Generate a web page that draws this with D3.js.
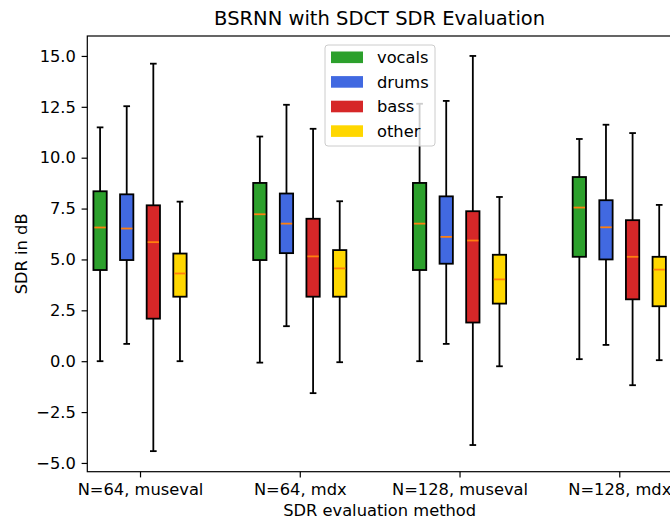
<!DOCTYPE html>
<html>
<head>
<meta charset="utf-8">
<script src="https://cdn.jsdelivr.net/npm/d3@7"></script>
<style>
  body { margin: 0; background: #fff; }
  text { font-family: "DejaVu Sans", sans-serif; fill: #000; }
</style>
</head>
<body>
<script>
// x categories and stems
var groups = ["N=64, museval", "N=64, mdx", "N=128, museval", "N=128, mdx"];
var stems = ["vocals", "drums", "bass", "other"];
var stemColors = ["#2ca02c", "#4169e1", "#d62728", "#ffd700"];

// each row: [whisker low, q1, median, q3, whisker high], one per group
var vocals = [[0.0, 4.48, 6.57, 8.35, 11.49], [-0.07, 4.97, 7.22, 8.76, 11.04], [0.0, 4.48, 6.76, 8.76, 12.65], [0.1, 5.13, 7.55, 9.05, 10.92]];
var drums  = [[0.85, 4.97, 6.52, 8.2, 12.53], [1.72, 5.31, 6.76, 8.24, 12.6], [0.85, 4.79, 6.11, 8.1, 12.79], [0.8, 5.0, 6.58, 7.91, 11.62]];
var bass   = [[-4.42, 2.09, 5.85, 7.66, 14.62], [-1.57, 3.17, 5.15, 7.0, 11.42], [-4.12, 1.9, 5.93, 7.37, 15.0], [-1.18, 3.04, 5.13, 6.93, 11.21]];
var other  = [[0.0, 3.17, 4.31, 5.29, 7.84], [-0.05, 3.17, 4.56, 5.46, 7.86], [-0.25, 2.83, 4.02, 5.23, 8.07], [0.05, 2.7, 4.5, 5.13, 7.68]];

var yTicks = [-5, -2.5, 0, 2.5, 5, 7.5, 10, 12.5, 15];

var svgWidth = 670, svgHeight = 521;
var margin = { top: 36, right: -2, bottom: 49.3, left: 87.3 };
var width = svgWidth - margin.left - margin.right;
var height = svgHeight - margin.top - margin.bottom;

var fs = 16.3;
var svg = d3.select("body").append("svg")
  .attr("width", svgWidth)
  .attr("height", svgHeight);

var chartGroup = svg.append("g")
  .attr("transform", `translate(${margin.left}, ${margin.top})`);

var x = d3.scaleLinear().domain([0.67, 4.33]).range([0, width]);
var y = d3.scaleLinear().domain([-5.43, 15.98]).range([height, 0]);

// flatten the box table
var all = [vocals, drums, bass, other];
var offsets = [-0.25, -0.0833, 0.0833, 0.25];
var boxW = 0.0833;
var rows = [];
all.forEach(function(series, s) {
  series.forEach(function(v, g) {
    rows.push({ stem: s, pos: g + 1 + offsets[s], lo: v[0], q1: v[1], med: v[2], q3: v[3], hi: v[4] });
  });
});

var bw = x(boxW) - x(0);

// whiskers
chartGroup.selectAll(".whisk")
  .data(rows).enter().append("line")
  .attr("x1", d => x(d.pos)).attr("x2", d => x(d.pos))
  .attr("y1", d => y(d.lo)).attr("y2", d => y(d.hi))
  .attr("stroke", "#000").attr("stroke-width", 1.8);

// caps
["lo", "hi"].forEach(function(k) {
  chartGroup.selectAll(".cap-" + k)
    .data(rows).enter().append("line")
    .attr("x1", d => x(d.pos) - bw / 4).attr("x2", d => x(d.pos) + bw / 4)
    .attr("y1", d => y(d[k])).attr("y2", d => y(d[k]))
    .attr("stroke", "#000").attr("stroke-width", 1.8);
});

// boxes
chartGroup.selectAll(".box")
  .data(rows).enter().append("rect")
  .attr("x", d => x(d.pos) - bw / 2)
  .attr("width", bw)
  .attr("y", d => y(d.q3))
  .attr("height", d => y(d.q1) - y(d.q3))
  .attr("fill", d => stemColors[d.stem])
  .attr("stroke", "#000").attr("stroke-width", 1.8);

// medians
chartGroup.selectAll(".med")
  .data(rows).enter().append("line")
  .attr("x1", d => x(d.pos) - bw / 2 + 1).attr("x2", d => x(d.pos) + bw / 2 - 1)
  .attr("y1", d => y(d.med)).attr("y2", d => y(d.med))
  .attr("stroke", "#ff7f0e").attr("stroke-width", 1.8);

// axes
var yAxis = d3.axisLeft(y).tickValues(yTicks).tickFormat(d3.format(".1f")).tickSize(5.7).tickPadding(5.7);
var xAxis = d3.axisBottom(x).tickValues([1, 2, 3, 4]).tickFormat((d, i) => groups[i]).tickSize(5.7).tickPadding(5.7);

var gy = chartGroup.append("g").call(yAxis);
var gx = chartGroup.append("g").attr("transform", `translate(0, ${height})`).call(xAxis);
[gx, gy].forEach(function(g) {
  g.select(".domain").remove();
  g.selectAll("line").attr("stroke", "#000").attr("stroke-width", 1.2);
  g.selectAll("text").style("font-size", fs + "px").style("font-family", "DejaVu Sans").attr("fill", "#000");
});

// frame
chartGroup.append("rect")
  .attr("x", 0).attr("y", 0).attr("width", width).attr("height", height)
  .attr("fill", "none").attr("stroke", "#000").attr("stroke-width", 1.2);

// legend
var leg = svg.append("g").attr("transform", "translate(325, 45)");
leg.append("rect")
  .attr("width", 110).attr("height", 101).attr("rx", 3)
  .attr("fill", "#fff").attr("fill-opacity", 0.8)
  .attr("stroke", "#cccccc").attr("stroke-width", 1);
stems.forEach(function(s, i) {
  var cy = 12.3 + i * 24.6;
  leg.append("rect")
    .attr("x", 6).attr("y", cy - 5.8).attr("width", 32).attr("height", 11.6)
    .attr("fill", stemColors[i]);
  leg.append("text")
    .attr("x", 52).attr("y", cy).attr("dy", "0.36em")
    .style("font-size", fs + "px")
    .text(s);
});

// titles
svg.append("text")
  .attr("x", margin.left + (x(4.33) - x(0.67)) / 2).attr("y", 25)
  .attr("text-anchor", "middle")
  .style("font-size", "19.5px")
  .text("BSRNN with SDCT SDR Evaluation");

svg.append("text")
  .attr("x", margin.left + (x(4.33) - x(0.67)) / 2).attr("y", 516)
  .attr("text-anchor", "middle")
  .style("font-size", fs + "px")
  .text("SDR evaluation method");

svg.append("text")
  .attr("transform", "rotate(-90)")
  .attr("x", -(margin.top + height / 2)).attr("y", 27)
  .attr("text-anchor", "middle")
  .style("font-size", fs + "px")
  .text("SDR in dB");
</script>
</body>
</html>
